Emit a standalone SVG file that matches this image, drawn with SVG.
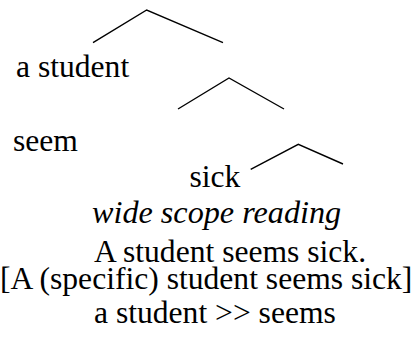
<svg xmlns="http://www.w3.org/2000/svg" width="418" height="337" viewBox="0 0 418 337">
<style>
.it{font-style:italic}
.br{fill:none;stroke:#000;stroke-width:1.4}
</style>
<rect width="418" height="337" fill="#fff"/>
<g id="connectors">
<polyline class="br" points="93,42.7 146.7,10 223,42.7"/>
<polyline class="br" points="178,109 229,78 284,109"/>
<polyline class="br" points="250.7,169.3 298.3,144.3 343,164"/>
</g>
<g font-family="Liberation Serif, Times New Roman, serif" font-size="31.6" fill="#000">
<g id="n-astudent"><text x="16" y="77">a student</text></g>
<g id="n-seem"><text x="13" y="150.5">seem</text></g>
<g id="n-sick"><text x="189.5" y="187">sick</text></g>
<g id="caption">
<text class="it" font-size="32.2" x="92" y="223">wide scope reading</text>
<text x="94" y="261.5">A student seems sick.</text>
<text x="0" y="288.5">[A (specific) student seems sick]</text>
<text x="94" y="323">a student &gt;&gt; seems</text>
</g>
</g>
</svg>
